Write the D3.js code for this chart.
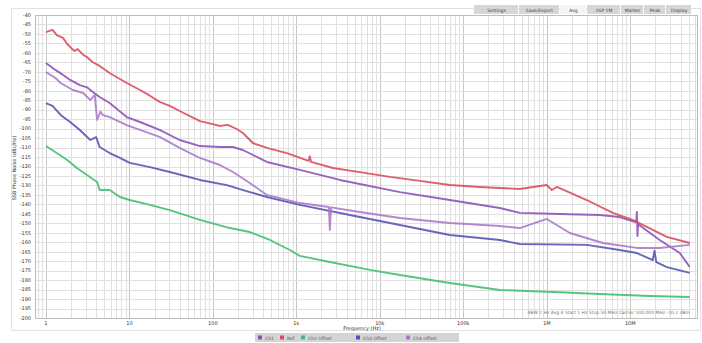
<!DOCTYPE html>
<html>
<head>
<meta charset="utf-8">
<script src="https://cdn.jsdelivr.net/npm/d3@7"></script>
<style>
  body { margin: 0; background: #fff; font-family: "DejaVu Sans", sans-serif; }
  .grid line { stroke: #e0e0e0; shape-rendering: crispEdges; }
  .grid .major { stroke: #c6c6c6; }
  .tick-label { font-size: 5px; fill: #333; }
  .trace { fill: none; stroke-width: 1.9; stroke-linejoin: round; opacity: 0.88; }
</style>
</head>
<body>
<svg id="chart" width="702" height="343"></svg>
<script>
// frequency (Hz), level (dBc/Hz)
const traceRed = [[1.0,-49.0],[1.2,-47.9],[1.35,-50.6],[1.6,-52.1],[1.8,-55.3],[2.0,-57.4],[2.2,-59.0],[2.4,-58.0],[2.8,-61.1],[3.1,-62.2],[3.6,-64.8],[4.4,-66.9],[5.8,-70.6],[9.3,-75.9],[13.4,-79.6],[17.6,-82.6],[23,-85.9],[30.5,-88.0],[40,-90.7],[70,-96.0],[100,-97.6],[121,-98.6],[150,-98.0],[194,-100.2],[229,-102.3],[301,-107.6],[443,-110.2],[770,-112.9],[1400,-117.0],[1450,-114.6],[1500,-117.6],[2740,-120.8],[5760,-123.0],[13200,-125.5],[30100,-127.6],[68900,-129.8],[158000,-130.8],[475000,-131.9],[825000,-130.3],[1.0e6,-129.8],[1.15e6,-132.4],[1.32e6,-130.8],[3.01e6,-137.7],[6.17e6,-144.5],[10.7e6,-148.2],[18.6e6,-153.5],[27.4e6,-157.2],[51.6e6,-160.4]];

const tracePurple = [[1.0,-65.3],[1.3,-69.0],[1.55,-71.2],[1.95,-74.3],[2.55,-77.0],[3.1,-78.2],[3.4,-79.6],[3.65,-80.7],[4.4,-83.3],[5.8,-86.5],[9.3,-93.9],[13.4,-96.5],[23,-100.7],[40,-106.0],[70,-109.2],[121,-109.7],[174,-109.7],[229,-111.3],[443,-117.6],[1100,-121.8],[3320,-127.1],[17400,-133.5],[68900,-137.7],[274000,-141.9],[475000,-144.5],[1.43e6,-145.1],[4.31e6,-145.6],[7.48e6,-146.7],[11.8e6,-149.5],[12.0e6,-144.0],[12.2e6,-156.7],[12.4e6,-150.5],[22.5e6,-158.8],[39.2e6,-165.7],[51.6e6,-173.1]];

const traceLilac = [[1.0,-70.1],[1.3,-73.3],[1.5,-75.9],[2.1,-79.6],[2.8,-81.2],[3.4,-84.9],[3.85,-82.2],[4.1,-95.4],[4.5,-91.0],[4.8,-92.8],[5.8,-93.9],[9.3,-98.1],[23,-104.4],[40,-110.2],[70,-115.5],[121,-119.2],[174,-122.9],[277,-128.7],[443,-135.0],[1100,-139.3],[2450,-141.4],[2520,-153.5],[2600,-141.6],[5760,-144.0],[17400,-147.2],[68900,-149.8],[274000,-151.4],[475000,-152.5],[1.0e6,-147.7],[1.89e6,-155.1],[4.69e6,-160.4],[12e6,-163.0],[22.5e6,-163.0],[51.6e6,-161.4]];

const traceBlue = [[1.0,-86.5],[1.2,-88.0],[1.5,-92.8],[1.95,-96.5],[2.55,-100.7],[3.4,-106.0],[4.0,-104.5],[4.4,-109.7],[5.8,-112.9],[7.7,-115.5],[10.1,-118.1],[17.6,-120.3],[30.5,-122.9],[70,-127.1],[147,-129.8],[277,-133.5],[443,-136.1],[1100,-140.3],[4370,-145.6],[17400,-150.9],[68900,-156.2],[274000,-158.8],[475000,-160.9],[3.01e6,-161.4],[7.48e6,-164.1],[12e6,-165.7],[18.6e6,-169.4],[19.5e6,-164.5],[20.5e6,-170.5],[27.4e6,-173.1],[51.6e6,-176.2]];

const traceGreen = [[1.0,-109.2],[1.35,-112.9],[1.8,-116.6],[2.35,-120.8],[3.1,-124.5],[4.1,-128.2],[4.4,-132.4],[5.8,-132.4],[7.7,-136.1],[10.1,-137.7],[17.6,-140.3],[30.5,-143.0],[70,-148.2],[160,-152.5],[277,-154.6],[482,-158.8],[836,-164.1],[1100,-167.2],[2520,-170.4],[7590,-174.6],[17400,-177.3],[68900,-181.5],[274000,-185.2],[1.2e6,-186.3],[4.31e6,-187.3],[17.1e6,-188.4],[51.6e6,-188.9]];

const xTickValues = [1, 10, 100, 1e3, 1e4, 1e5, 1e6, 1e7];
const xTickLabels = ["1", "10", "100", "1k", "10k", "100k", "1M", "10M"];
const yTickValues = d3.range(-40, -201, -5);

const legendNames = ["Ch1", "Ref", "Ch2 Offset", "Ch3 Offset", "Ch4 Offset"];
const toolbarLabels = ["Settings", "Save/Export", "Avg", "SSP 1M", "Marker", "Peak", "Display"];

const series = [
  { name: legendNames[0], color: "#8b4fb8", data: tracePurple },
  { name: legendNames[1], color: "#d84a5c", data: traceRed },
  { name: legendNames[2], color: "#3fbd6c", data: traceGreen },
  { name: legendNames[3], color: "#5252b2", data: traceBlue },
  { name: legendNames[4], color: "#a877c9", data: traceLilac }
];

const svg = d3.select("#chart");
const plotLeft = 35, plotRight = 697, plotTop = 15, plotBottom = 318;

const x = d3.scaleLog().domain([0.74, 6.3e7]).range([plotLeft, plotRight]);
const y = d3.scaleLinear().domain([-200, -40]).range([plotBottom, plotTop]);

// outer frame
svg.append("rect").attr("x", 11.5).attr("y", 8.5).attr("width", 689).attr("height", 322)
  .attr("fill", "none").attr("stroke", "#e2e2e2");

// grid
const grid = svg.append("g").attr("class", "grid");
const minor = [];
for (let e = -1; e < 8; e++) {
  for (let m = 1; m < 10; m++) {
    const v = m * Math.pow(10, e);
    if (v >= 0.74 && v <= 6.3e7) minor.push({ v, major: m === 1 });
  }
}
grid.selectAll(".vx").data(minor).enter().append("line")
  .attr("class", d => d.major ? "major" : "vx")
  .attr("x1", d => Math.round(x(d.v)) + 0.5).attr("x2", d => Math.round(x(d.v)) + 0.5)
  .attr("y1", plotTop).attr("y2", plotBottom);
grid.selectAll(".hy").data(yTickValues).enter().append("line")
  .attr("class", "hy")
  .attr("x1", plotLeft).attr("x2", plotRight)
  .attr("y1", d => Math.round(y(d)) + 0.5).attr("y2", d => Math.round(y(d)) + 0.5);
svg.append("rect").attr("x", plotLeft + 0.5).attr("y", plotTop + 0.5)
  .attr("width", plotRight - plotLeft).attr("height", plotBottom - plotTop)
  .attr("fill", "none").attr("stroke", "#bdbdbd");

// axes labels
svg.selectAll(".ylab").data(yTickValues).enter().append("text")
  .attr("class", "tick-label")
  .attr("x", 31).attr("y", d => y(d) + 1.8)
  .attr("text-anchor", "end")
  .text(d => d);
svg.selectAll(".xlab").data(xTickValues).enter().append("text")
  .attr("class", "tick-label")
  .attr("x", d => x(d)).attr("y", 324.5)
  .attr("text-anchor", "middle")
  .text((d, i) => xTickLabels[i]);

svg.append("text").attr("class", "tick-label")
  .attr("transform", "translate(16,168) rotate(-90)")
  .attr("text-anchor", "middle")
  .text("SSB Phase Noise (dBc/Hz)");
svg.append("text").attr("class", "tick-label")
  .attr("x", 362).attr("y", 330).attr("text-anchor", "middle")
  .text("Frequency (Hz)");

svg.append("text")
  .attr("x", 690).attr("y", 314).attr("text-anchor", "end")
  .style("font-size", "4.5px").style("fill", "#777")
  .text("RBW 1 Hz   Avg 4   Start 1 Hz   Stop 50 MHz   Carrier 100.000 MHz   -10.2 dBm");

// traces
const line = d3.line().x(d => x(d[0])).y(d => y(d[1]));
svg.append("g").selectAll("path").data(series).enter().append("path")
  .attr("class", "trace")
  .attr("stroke", d => d.color)
  .attr("d", d => line(d.data));

// toolbar
let bx = 474;
const btnW = [45, 41, 27, 34, 23, 22, 26];
const tb = svg.append("g");
toolbarLabels.forEach((lab, i) => {
  tb.append("rect").attr("x", bx).attr("y", 5).attr("width", btnW[i] - 1).attr("height", 9)
    .attr("fill", i === 2 ? "#f4f4f4" : "#d6d6d6");
  tb.append("text").attr("x", bx + btnW[i] / 2).attr("y", 11.5)
    .attr("text-anchor", "middle").style("font-size", "4.5px").style("fill", "#444").text(lab);
  bx += btnW[i];
});

// legend
const lg = svg.append("g");
lg.append("rect").attr("x", 255).attr("y", 333).attr("width", 204).attr("height", 9).attr("fill", "#d4d4d4");
const lx = [258, 280, 301, 356, 406];
series.forEach((s, i) => {
  lg.append("rect").attr("x", lx[i]).attr("y", 335.5).attr("width", 4).attr("height", 4).attr("fill", s.color);
  lg.append("text").attr("x", lx[i] + 7).attr("y", 339.5)
    .style("font-size", "4.5px").style("fill", "#555").text(s.name);
});
</script>
</body>
</html>
